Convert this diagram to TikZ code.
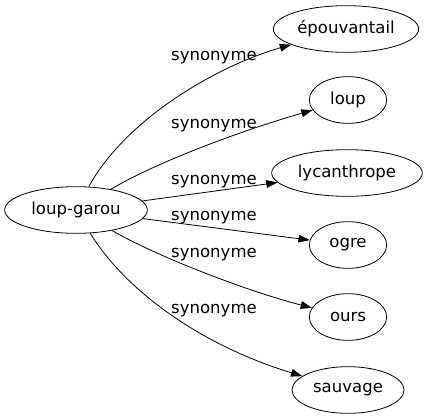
\documentclass[tikz,border=0pt]{standalone}
\usepackage{fontspec}
\setmainfont{DejaVu Sans}
\usetikzlibrary{shapes.geometric}
\usetikzlibrary{arrows.meta}

\tikzset{
  mot/.style={ellipse, draw, line width=0.6pt, inner sep=1pt,
    minimum width=58pt, minimum height=35pt},
  rel/.style={-{Triangle[length=8.5pt,width=5.8pt]}, line width=0.6pt},
  etiq/.style={anchor=base, inner sep=0pt}
}

\begin{document}
\begin{tikzpicture}[x=0.75pt,y=-0.75pt,font=\fontsize{12.4}{14}\selectfont]
\useasboundingbox (0,0) rectangle (429,419);

\node[mot, minimum width=107pt] (lg) at (76,210) {loup-garou};
\node[mot, minimum width=109pt] (ep) at (346,29) {épouvantail};
\node[mot] (lo) at (348,100) {loup};
\node[mot, minimum width=113pt] (ly) at (347,173) {lycanthrope};
\node[mot] (og) at (348,245) {ogre};
\node[mot] (ou) at (348,317) {ours};
\node[mot, minimum width=84pt] (sa) at (348,390) {sauvage};

\draw[rel] (lg) .. controls (127,117) and (220,65) .. (ep);
\draw[rel] (lg) .. controls (160,160) and (250,128) .. (lo);
\draw[rel] (lg) -- (ly);
\draw[rel] (lg) -- (og);
\draw[rel] (lg) .. controls (160,258) and (250,292) .. (ou);
\draw[rel] (lg) .. controls (125,290) and (200,345) .. (sa);

\node[etiq] (s1) at (214,60) {synonyme};
\node[etiq] (s2) at (214,128) {synonyme};
\node[etiq] (s3) at (214,184) {synonyme};
\node[etiq] (s4) at (214,220) {synonyme};
\node[etiq] (s5) at (214,257) {synonyme};
\node[etiq] (s6) at (214,313) {synonyme};

\end{tikzpicture}
\end{document}
